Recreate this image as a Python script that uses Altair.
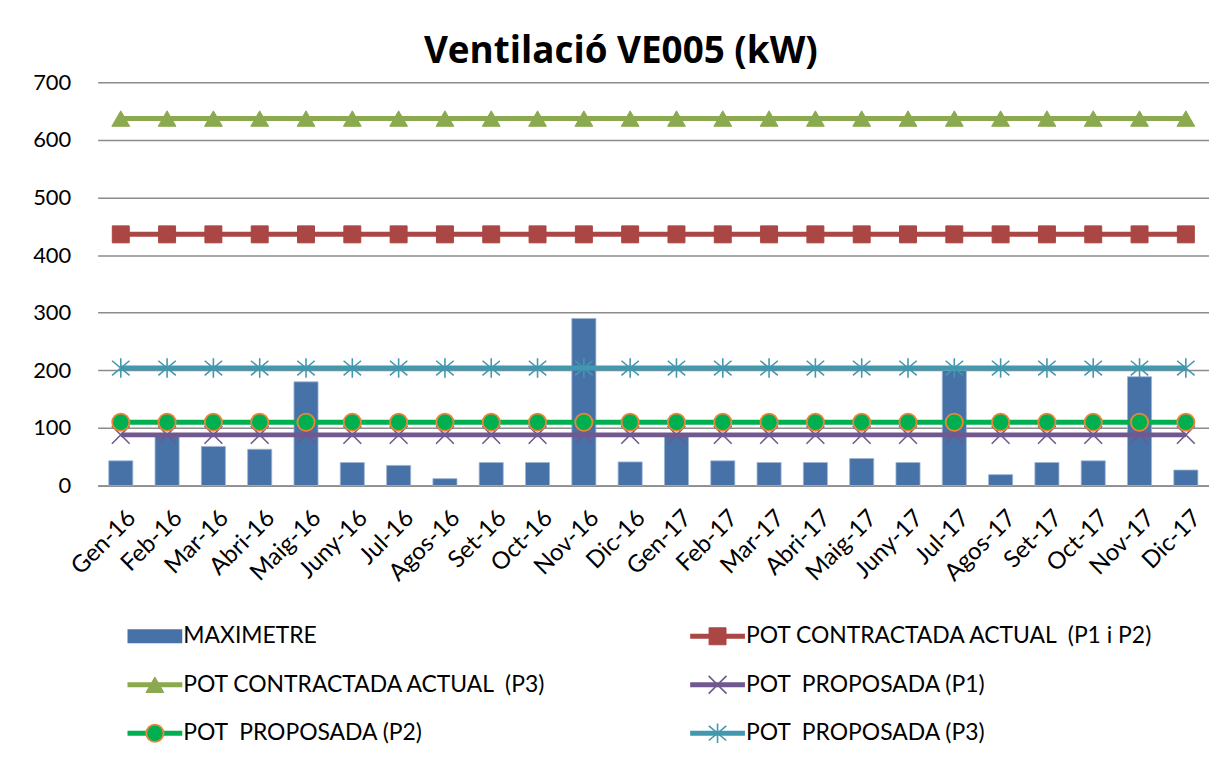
import altair as alt
import pandas as pd

months = ["Gen-16", "Feb-16", "Mar-16", "Abri-16", "Maig-16", "Juny-16", "Jul-16", "Agos-16",
          "Set-16", "Oct-16", "Nov-16", "Dic-16", "Gen-17", "Feb-17", "Mar-17", "Abri-17",
          "Maig-17", "Juny-17", "Jul-17", "Agos-17", "Set-17", "Oct-17", "Nov-17", "Dic-17"]

maximetre = [43, 90, 68, 63, 180, 40, 35, 12, 40, 40, 290, 41,
             90, 43, 40, 40, 47, 40, 200, 19, 40, 43, 189, 27]
pot_actual_p1p2 = [436, 436, 436, 436, 436, 436, 436, 436, 436, 436, 436, 436,
                   436, 436, 436, 436, 436, 436, 436, 436, 436, 436, 436, 436]
pot_actual_p3 = [637, 637, 637, 637, 637, 637, 637, 637, 637, 637, 637, 637,
                 637, 637, 637, 637, 637, 637, 637, 637, 637, 637, 637, 637]
pot_prop_p1 = [88, 88, 88, 88, 88, 88, 88, 88, 88, 88, 88, 88,
               88, 88, 88, 88, 88, 88, 88, 88, 88, 88, 88, 88]
pot_prop_p2 = [110, 110, 110, 110, 110, 110, 110, 110, 110, 110, 110, 110,
               110, 110, 110, 110, 110, 110, 110, 110, 110, 110, 110, 110]
pot_prop_p3 = [204, 204, 204, 204, 204, 204, 204, 204, 204, 204, 204, 204,
               204, 204, 204, 204, 204, 204, 204, 204, 204, 204, 204, 204]

bar_name = "MAXIMETRE"
line_names = ["POT CONTRACTADA ACTUAL\u00a0\u00a0(P1 i P2)", "POT CONTRACTADA ACTUAL\u00a0\u00a0(P3)",
              "POT\u00a0\u00a0PROPOSADA (P1)", "POT\u00a0\u00a0PROPOSADA (P2)", "POT\u00a0\u00a0PROPOSADA (P3)"]
line_values = [pot_actual_p1p2, pot_actual_p3, pot_prop_p1, pot_prop_p2, pot_prop_p3]
legend_order = [bar_name] + line_names

FONT = "Lato"
BAR_COLOR = "#4672A8"
X_PATH = "M-1,-1L1,1M-1,1L1,-1"
AST_PATH = "M0,-1L0,1M-0.9,-0.75L0.9,0.75M-0.9,0.75L0.9,-0.75"

styles = {
    line_names[0]: dict(line="#AA4643", shape="square", size=290, filled=True, fill="#AA4643", stroke="#AA4643", sw=1),
    line_names[1]: dict(line="#8BA94F", shape="triangle-up", size=320, filled=True, fill="#8BA94F", stroke="#8BA94F", sw=1),
    line_names[2]: dict(line="#71588F", shape=X_PATH, size=320, filled=False, fill=None, stroke="#71588F", sw=1.6),
    line_names[3]: dict(line="#00B050", shape="circle", size=300, filled=True, fill="#00B050", stroke="#E8873A", sw=1.8),
    line_names[4]: dict(line="#4198AF", shape=AST_PATH, size=380, filled=False, fill=None, stroke="#4198AF", sw=1.6),
}

W, H = 1116, 405
NO_FRAME = alt.ViewBackground(stroke="transparent", strokeWidth=0)

bar_df = pd.DataFrame({"month": months, "value": maximetre})

xscale = alt.Scale(domain=months, paddingInner=0.48, paddingOuter=0.24)
yscale = alt.Scale(domain=[0, 700])

x_enc = alt.X("month:N", sort=months, scale=xscale, title=None,
              axis=alt.Axis(labelAngle=-45, labelFontSize=24, labelFont=FONT, labelColor="black",
                            domainColor="#868686", domainWidth=1.5, ticks=False, labelPadding=20,
                            labelOffset=3, labelAlign="right", labelBaseline="top", grid=False))
y_enc = alt.Y("value:Q", scale=yscale, title=None,
              axis=alt.Axis(values=[0, 100, 200, 300, 400, 500, 600, 700], labelFontSize=22,
                            labelFont=FONT, labelColor="black", grid=True, gridColor="#8C8C8C",
                            gridWidth=1.4, domain=False, ticks=False, labelPadding=27,
                            minExtent=60, maxExtent=60))

bars = alt.Chart(bar_df).mark_bar(color=BAR_COLOR, stroke="#9FB4D4", strokeWidth=0.8).encode(x=x_enc, y=y_enc)


def marker_mark(chart, name):
    s = styles[name]
    kw = dict(shape=s["shape"], size=s["size"], filled=s["filled"], stroke=s["stroke"],
              strokeWidth=s["sw"], opacity=1)
    if s["fill"] is not None:
        kw["fill"] = s["fill"]
    return chart.mark_point(**kw)


layers = [bars]
for name, vals in zip(line_names, line_values):
    df = pd.DataFrame({"month": months, "value": vals})
    base = alt.Chart(df)
    line = base.mark_line(color=styles[name]["line"], strokeWidth=5).encode(
        x=alt.X("month:N", sort=months, scale=xscale), y=alt.Y("value:Q", scale=yscale))
    pts = marker_mark(base, name).encode(
        x=alt.X("month:N", sort=months, scale=xscale), y=alt.Y("value:Q", scale=yscale))
    layers += [line, pts]

main = alt.layer(*layers).properties(width=W, height=H, view=NO_FRAME)

# ---- legend panel built from the series list ----
COL_X = [30, 595]
SYM_W = 55
TEXT_GAP = 1
rows = []
for i, name in enumerate(legend_order):
    col, row = i % 2, i // 2
    rows.append({"name": name, "row": row + 0.5, "x0": COL_X[col], "x1": COL_X[col] + SYM_W,
                 "xm": COL_X[col] + SYM_W / 2, "xt": COL_X[col] + SYM_W + TEXT_GAP})
leg_df = pd.DataFrame(rows)

lx = alt.Scale(domain=[0, W])
ly = alt.Scale(domain=[3, 0])
lbase = alt.Chart(leg_df)

leg_layers = []
leg_layers.append(
    lbase.transform_filter(alt.datum.name == bar_name).mark_rect(color=BAR_COLOR, height=14).encode(
        x=alt.X("x0:Q", scale=lx, axis=None), x2="x1:Q", y=alt.Y("row:Q", scale=ly, axis=None)))
for name in line_names:
    sub = lbase.transform_filter(alt.datum.name == name)
    leg_layers.append(sub.mark_rule(color=styles[name]["line"], strokeWidth=5).encode(
        x=alt.X("x0:Q", scale=lx, axis=None), x2="x1:Q", y=alt.Y("row:Q", scale=ly, axis=None)))
    leg_layers.append(marker_mark(sub, name).encode(
        x=alt.X("xm:Q", scale=lx, axis=None), y=alt.Y("row:Q", scale=ly, axis=None)))
leg_layers.append(lbase.mark_text(align="left", baseline="middle", font=FONT, fontSize=23, color="black").encode(
    x=alt.X("xt:Q", scale=lx, axis=None), y=alt.Y("row:Q", scale=ly, axis=None), text="name:N"))

legend = alt.layer(*leg_layers).properties(width=W, height=146, view=NO_FRAME)

chart = alt.vconcat(main, legend, spacing=26).properties(
    title=alt.TitleParams("Ventilació VE005 (kW)", font="Open Sans", fontSize=37, fontWeight="bold",
                          color="black", anchor="middle", offset=0),
    padding={"left": 24, "top": 24, "right": 0, "bottom": 0},
).configure_view(strokeWidth=0, stroke="transparent").configure(background="white")

chart.save("out.html", embed_options={"renderer": "svg", "actions": False})
